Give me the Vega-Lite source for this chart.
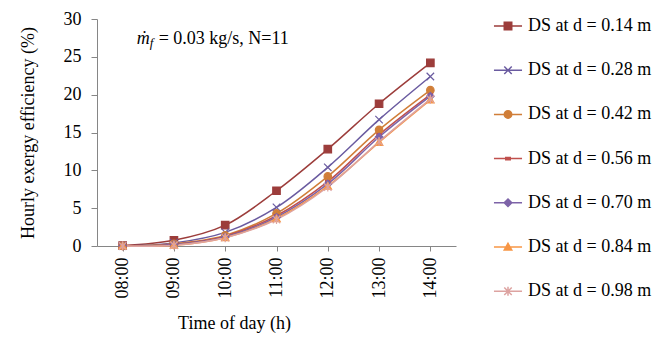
{
  "$schema": "https://vega.github.io/schema/vega-lite/v6.json",
  "width": 359,
  "height": 227,
  "autosize": "none",
  "padding": {"left": 97, "top": 19, "right": 214, "bottom": 97},
  "background": "white",
  "config": {
    "view": {"stroke": null},
    "font": "Liberation Serif",
    "axis": {"labelFont": "Liberation Serif", "titleFont": "Liberation Serif", "labelColor": "black", "titleColor": "black", "titleFontWeight": "normal", "domainColor": "#868686", "tickColor": "#868686", "grid": false},
    "legend": {"orient": "none", "legendX": 402, "legendY": -2, "padding": 0,
      "labelFont": "Liberation Serif", "labelFontSize": 18, "labelColor": "black",
      "symbolSize": 56, "symbolStrokeWidth": 1.5, "rowPadding": 26.2, "labelOffset": 11, "symbolOpacity": 1}
  },
  "data": {
    "values": [
      {"series": "DS at d = 0.14 m", "time": "08:00", "eff": 0.05},
      {"series": "DS at d = 0.14 m", "time": "09:00", "eff": 0.75},
      {"series": "DS at d = 0.14 m", "time": "10:00", "eff": 2.75},
      {"series": "DS at d = 0.14 m", "time": "11:00", "eff": 7.3},
      {"series": "DS at d = 0.14 m", "time": "12:00", "eff": 12.8},
      {"series": "DS at d = 0.14 m", "time": "13:00", "eff": 18.8},
      {"series": "DS at d = 0.14 m", "time": "14:00", "eff": 24.2},
      {"series": "DS at d = 0.28 m", "time": "08:00", "eff": 0.0},
      {"series": "DS at d = 0.28 m", "time": "09:00", "eff": 0.4},
      {"series": "DS at d = 0.28 m", "time": "10:00", "eff": 1.8},
      {"series": "DS at d = 0.28 m", "time": "11:00", "eff": 5.1},
      {"series": "DS at d = 0.28 m", "time": "12:00", "eff": 10.4},
      {"series": "DS at d = 0.28 m", "time": "13:00", "eff": 16.7},
      {"series": "DS at d = 0.28 m", "time": "14:00", "eff": 22.4},
      {"series": "DS at d = 0.42 m", "time": "08:00", "eff": 0.0},
      {"series": "DS at d = 0.42 m", "time": "09:00", "eff": 0.3},
      {"series": "DS at d = 0.42 m", "time": "10:00", "eff": 1.4},
      {"series": "DS at d = 0.42 m", "time": "11:00", "eff": 4.3},
      {"series": "DS at d = 0.42 m", "time": "12:00", "eff": 9.2},
      {"series": "DS at d = 0.42 m", "time": "13:00", "eff": 15.35},
      {"series": "DS at d = 0.42 m", "time": "14:00", "eff": 20.6},
      {"series": "DS at d = 0.56 m", "time": "08:00", "eff": 0.0},
      {"series": "DS at d = 0.56 m", "time": "09:00", "eff": 0.2},
      {"series": "DS at d = 0.56 m", "time": "10:00", "eff": 1.3},
      {"series": "DS at d = 0.56 m", "time": "11:00", "eff": 4.0},
      {"series": "DS at d = 0.56 m", "time": "12:00", "eff": 8.5},
      {"series": "DS at d = 0.56 m", "time": "13:00", "eff": 14.7},
      {"series": "DS at d = 0.56 m", "time": "14:00", "eff": 20.0},
      {"series": "DS at d = 0.70 m", "time": "08:00", "eff": 0.0},
      {"series": "DS at d = 0.70 m", "time": "09:00", "eff": 0.2},
      {"series": "DS at d = 0.70 m", "time": "10:00", "eff": 1.2},
      {"series": "DS at d = 0.70 m", "time": "11:00", "eff": 3.8},
      {"series": "DS at d = 0.70 m", "time": "12:00", "eff": 8.2},
      {"series": "DS at d = 0.70 m", "time": "13:00", "eff": 14.4},
      {"series": "DS at d = 0.70 m", "time": "14:00", "eff": 19.8},
      {"series": "DS at d = 0.84 m", "time": "08:00", "eff": 0.0},
      {"series": "DS at d = 0.84 m", "time": "09:00", "eff": 0.1},
      {"series": "DS at d = 0.84 m", "time": "10:00", "eff": 1.1},
      {"series": "DS at d = 0.84 m", "time": "11:00", "eff": 3.6},
      {"series": "DS at d = 0.84 m", "time": "12:00", "eff": 7.9},
      {"series": "DS at d = 0.84 m", "time": "13:00", "eff": 13.7},
      {"series": "DS at d = 0.84 m", "time": "14:00", "eff": 19.3},
      {"series": "DS at d = 0.98 m", "time": "08:00", "eff": 0.0},
      {"series": "DS at d = 0.98 m", "time": "09:00", "eff": 0.1},
      {"series": "DS at d = 0.98 m", "time": "10:00", "eff": 1.1},
      {"series": "DS at d = 0.98 m", "time": "11:00", "eff": 3.5},
      {"series": "DS at d = 0.98 m", "time": "12:00", "eff": 7.8},
      {"series": "DS at d = 0.98 m", "time": "13:00", "eff": 13.8},
      {"series": "DS at d = 0.98 m", "time": "14:00", "eff": 19.4}
    ]
  },
  "encoding": {
    "x": {
      "field": "time", "type": "ordinal",
      "scale": {"type": "point", "padding": 0.5},
      "axis": {"title": "Time of day (h)", "labelAngle": -90, "labelFontSize": 18, "titleFontSize": 18, "tickSize": 5, "labelPadding": 6, "titlePadding": 16, "titleX": 137}
    },
    "y": {
      "field": "eff", "type": "quantitative",
      "scale": {"domain": [0, 30], "nice": false},
      "axis": {"title": "Hourly exergy efficiency (%)", "values": [0, 5, 10, 15, 20, 25, 30], "labelFontSize": 18, "titleFontSize": 18, "tickSize": 6, "labelPadding": 10, "titlePadding": 26}
    }
  },
  "layer": [
    {
      "mark": {"type": "line", "interpolate": "catmull-rom", "strokeWidth": 1.5},
      "encoding": {
        "color": {"field": "series", "type": "nominal",
          "scale": {"range": ["#9C3D3B", "#6A5BA0", "#D07E38", "#C0504D", "#7D63A8", "#F79646", "#DDA3A1"]},
          "legend": {"title": null, "encode": {"symbols": {"update": {"shape": {"signal": "['M-3.75,0H3.75M-1,-1H1V1H-1Z','M-3.75,0H3.75M-1,-1L1,1M-1,1L1,-1','M-3.75,0H3.75M1,0A1,1,0,1,1,-1,0A1,1,0,1,1,1,0Z','M-3.75,0H3.75M-0.6,-0.3H0.6V0.3H-0.6Z','M-3.75,0H3.75M0,-1L1,0L0,1L-1,0Z','M-3.75,0H3.75M0,-1L1,0.8H-1Z','M-3.75,0H3.75M-1,-1L1,1M-1,1L1,-1M0,-1.2L0,1.2'][datum.index]"}, "fill": {"signal": "scale('color', datum.value)"}, "stroke": {"signal": "scale('color', datum.value)"}}}}}
        }
      }
    },
    {
      "mark": {"type": "point", "filled": true, "opacity": 1, "size": 56, "strokeWidth": 1.2},
      "encoding": {
        "color": {"field": "series", "type": "nominal",
          "legend": {"title": null, "encode": {"symbols": {"update": {"shape": {"signal": "['M-3.75,0H3.75M-1,-1H1V1H-1Z','M-3.75,0H3.75M-1,-1L1,1M-1,1L1,-1','M-3.75,0H3.75M1,0A1,1,0,1,1,-1,0A1,1,0,1,1,1,0Z','M-3.75,0H3.75M-0.6,-0.3H0.6V0.3H-0.6Z','M-3.75,0H3.75M0,-1L1,0L0,1L-1,0Z','M-3.75,0H3.75M0,-1L1,0.8H-1Z','M-3.75,0H3.75M-1,-1L1,1M-1,1L1,-1M0,-1.2L0,1.2'][datum.index]"}, "fill": {"signal": "scale('color', datum.value)"}, "stroke": {"signal": "scale('color', datum.value)"}}}}}
        },
        "stroke": {"field": "series", "type": "nominal", "legend": null,
          "scale": {"range": ["#9C3D3B", "#6A5BA0", "#D07E38", "#C0504D", "#7D63A8", "#F79646", "#DDA3A1"]}},
        "shape": {"field": "series", "type": "nominal", "legend": null,
          "scale": {"range": ["M-1,-1H1V1H-1Z", "M-1,-1L1,1M-1,1L1,-1", "M1,0A1,1,0,1,1,-1,0A1,1,0,1,1,1,0Z", "M-0.6,-0.3H0.6V0.3H-0.6Z", "M0,-1L1,0L0,1L-1,0Z", "M0,-1L1,0.8H-1Z", "M-1,-1L1,1M-1,1L1,-1M0,-1.2L0,1.2"]}}
      }
    },
    {
      "transform": [{"filter": "datum.series == 'DS at d = 0.14 m' && datum.time == '08:00'"}],
      "mark": {"type": "text", "text": "ṁ", "font": "Liberation Serif", "fontStyle": "italic", "fontSize": 18, "align": "left", "baseline": "middle", "dx": 14, "fill": "black", "stroke": null},
      "encoding": {"x": {"datum": "08:00"}, "y": {"datum": 27.3}}
    },
    {
      "transform": [{"filter": "datum.series == 'DS at d = 0.14 m' && datum.time == '08:00'"}],
      "mark": {"type": "text", "text": "f", "font": "Liberation Serif", "fontStyle": "italic", "fontSize": 13, "align": "left", "baseline": "middle", "dx": 27, "dy": 4, "fill": "black", "stroke": null},
      "encoding": {"x": {"datum": "08:00"}, "y": {"datum": 27.3}}
    },
    {
      "transform": [{"filter": "datum.series == 'DS at d = 0.14 m' && datum.time == '08:00'"}],
      "mark": {"type": "text", "text": "= 0.03 kg/s, N=11", "font": "Liberation Serif", "fontSize": 18, "align": "left", "baseline": "middle", "dx": 36, "fill": "black", "stroke": null},
      "encoding": {"x": {"datum": "08:00"}, "y": {"datum": 27.3}}
    }
  ]
}
